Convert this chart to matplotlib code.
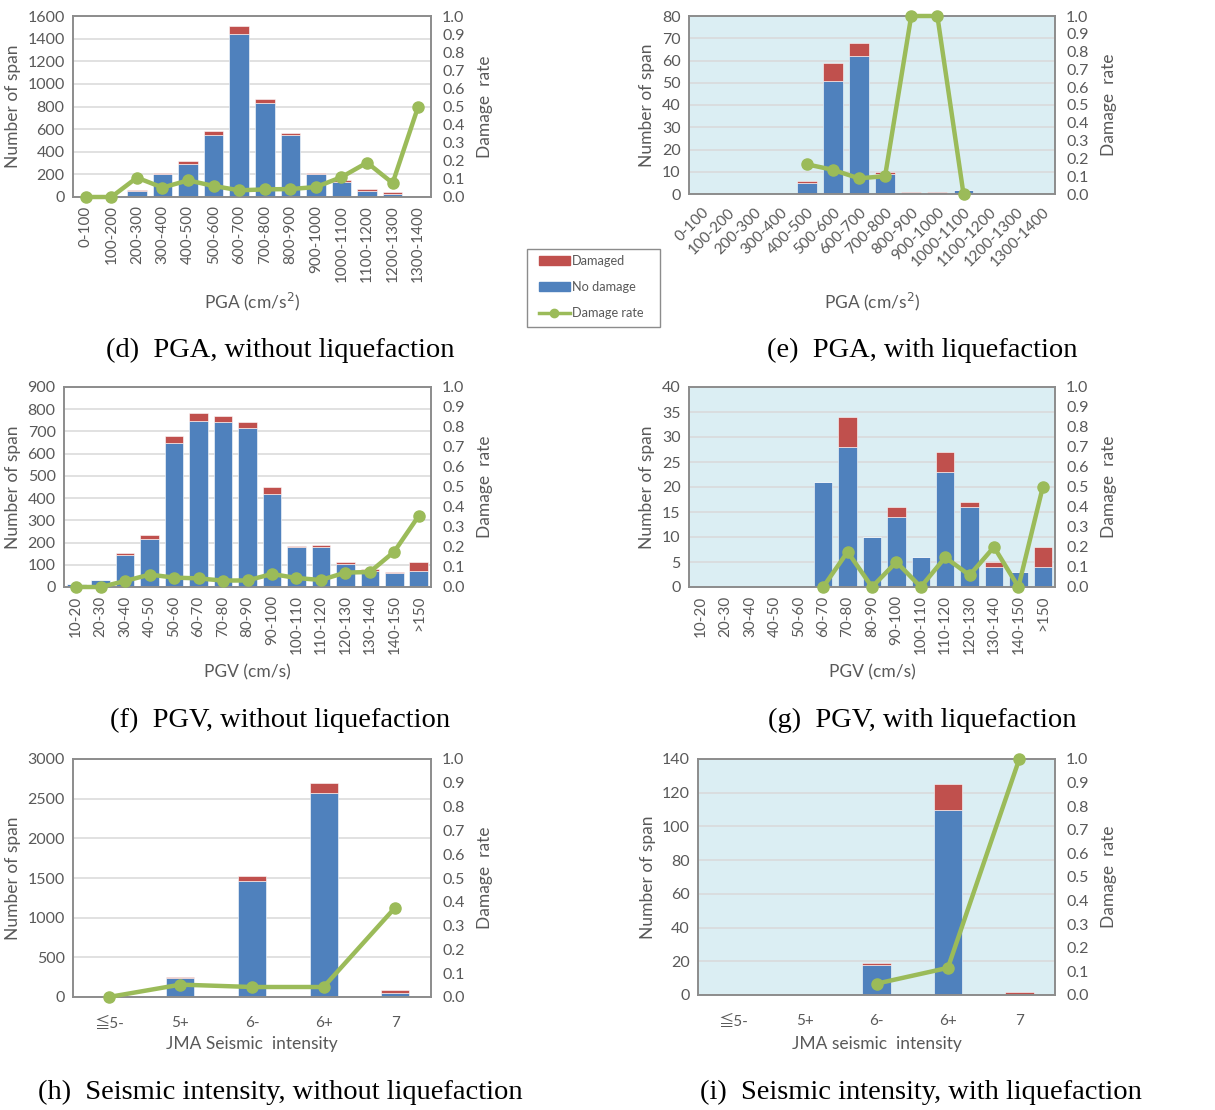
import numpy as np
import matplotlib
matplotlib.use("Agg")
import matplotlib.pyplot as plt
from matplotlib.patches import Patch, Rectangle
from matplotlib.lines import Line2D

W, H = 1215, 1110
BLUE = "#4F81BD"
RED = "#C0504D"
GREEN = "#9BBB59"
GRAY = "#595959"
LIQ_BG = "#DBEEF3"
nan = np.nan

plt.rcParams['font.family'] = ['Lato', 'Noto Sans CJK JP', 'DejaVu Sans']

# PGA (cm/s2)
pga_labels = ['0-100', '100-200', '200-300', '300-400', '400-500', '500-600', '600-700',
              '700-800', '800-900', '900-1000', '1000-1100', '1100-1200', '1200-1300', '1300-1400']
pga_nodmg_dry = [12, 10, 52, 204, 292, 546, 1445, 829, 546, 204, 133, 53, 30, 5]
pga_dmg_dry = [0, 0, 6, 11, 27, 35, 71, 41, 23, 11, 14, 15, 11, 5]
pga_rate_dry = [0.0, 0.0, 0.107, 0.052, 0.092, 0.061, 0.037, 0.042, 0.044, 0.055, 0.11, 0.19, 0.077, 0.5]
pga_nodmg_liq = [0, 0, 0, 0, 5, 51, 62, 9, 0, 0, 2, 0, 0, 0]
pga_dmg_liq = [0, 0, 0, 0, 1, 8, 6, 1, 1, 1, 0, 0, 0, 0]
pga_rate_liq = [nan, nan, nan, nan, 0.167, 0.136, 0.088, 0.1, 1.0, 1.0, 0.0, nan, nan, nan]

# PGV (cm/s)
pgv_labels = ['10-20', '20-30', '30-40', '40-50', '50-60', '60-70', '70-80', '80-90',
              '90-100', '100-110', '110-120', '120-130', '130-140', '140-150', '>150']
pgv_nodmg_dry = [12, 30, 144, 215, 649, 748, 743, 716, 420, 178, 180, 103, 74, 61, 71]
pgv_dmg_dry = [0, 0, 7, 17, 32, 35, 25, 26, 28, 8, 7, 8, 6, 7, 40]
pgv_rate_dry = [0.0, 0.0, 0.030, 0.062, 0.047, 0.043, 0.032, 0.033, 0.065, 0.045, 0.035,
                0.072, 0.075, 0.177, 0.356]
pgv_nodmg_liq = [0, 0, 0, 0, 0, 21, 28, 10, 14, 6, 23, 16, 4, 3, 4]
pgv_dmg_liq = [0, 0, 0, 0, 0, 0, 6, 0, 2, 0, 4, 1, 1, 0, 4]
pgv_rate_liq = [nan, nan, nan, nan, nan, 0.0, 0.176, 0.0, 0.125, 0.0, 0.148, 0.059, 0.2, 0.0, 0.5]

# JMA seismic intensity
jma_labels = ['\u2266' + '5-', '5+', '6-', '6+', '7']
jma_nodmg_dry = [4, 235, 1462, 2570, 52]
jma_dmg_dry = [0, 15, 68, 125, 32]
jma_rate_dry = [0.0, 0.052, 0.042, 0.042, 0.376]
jma_nodmg_liq = [0, 0, 18, 110, 0]
jma_dmg_liq = [0, 0, 1, 15, 2]
jma_rate_liq = [nan, nan, 0.048, 0.115, 1.0]

fig = plt.figure(figsize=(W / 100, H / 100), dpi=100)


def panel(box, labels, nodmg, dmg, rate, ymax, ystep, xlabel, rot, width,
          bg, left_x, right_x, xlab_y, xpad):
    x0, y0, x1, y1 = box
    ax = fig.add_axes([x0 / W, 1 - y1 / H, (x1 - x0) / W, (y1 - y0) / H])
    ax.set_facecolor(bg)
    x = np.arange(len(labels))
    ax.bar(x, nodmg, width, color=BLUE, edgecolor='white', linewidth=0.4, zorder=2)
    ax.bar(x, dmg, width, bottom=nodmg, color=RED, edgecolor='white', linewidth=0.4, zorder=2)
    ax.set_xlim(-0.5, len(labels) - 0.5)
    ax.set_ylim(0, ymax)
    ax.set_yticks(np.arange(0, ymax + ystep / 2, ystep))
    ax.grid(axis='y', color='#D9D9D9', lw=1.1, zorder=0)
    ax.set_axisbelow(True)
    ax.set_xticks(x)
    if rot == 45:
        ax.set_xticklabels(labels, rotation=45, ha='right', rotation_mode='anchor')
    else:
        ax.set_xticklabels(labels, rotation=rot)
    for s in ax.spines.values():
        s.set_color('#8C8C8C')
        s.set_linewidth(1.4)
    ax.tick_params(axis='y', length=0, labelsize=11.5, colors=GRAY, pad=6)
    ax.tick_params(axis='x', length=0, labelsize=11, colors=GRAY, pad=xpad)
    ax.set_ylabel('Number of span', fontsize=12.5, color=GRAY)
    ax.yaxis.set_label_coords((left_x - x0) / (x1 - x0), 0.5)
    ax.set_xlabel(xlabel, fontsize=12.5, color=GRAY)
    ax.xaxis.set_label_coords(0.5, (y1 - xlab_y) / (y1 - y0))

    ax2 = ax.twinx()
    ax2.plot(x, rate, color=GREEN, lw=3.2, marker='o', ms=8, zorder=3, clip_on=False)
    ax2.set_ylim(0, 1.0)
    ax2.set_yticks(np.arange(0, 1.01, 0.1))
    ax2.set_yticklabels(['%.1f' % v for v in np.arange(0, 1.01, 0.1)])
    ax2.tick_params(length=0, labelsize=11.5, colors=GRAY, pad=8)
    for s in ax2.spines.values():
        s.set_visible(False)
    ax2.set_ylabel('Damage  rate', fontsize=12.5, color=GRAY)
    ax2.yaxis.set_label_coords((right_x - x0) / (x1 - x0), 0.5)
    return ax


panel((73, 16, 431, 197), pga_labels, pga_nodmg_dry, pga_dmg_dry, pga_rate_dry, 1600, 200,
      'PGA (cm/s$^2$)', 90, 0.76, 'white', 21, 477, 291, 6)
panel((689, 16, 1055, 194), pga_labels, pga_nodmg_liq, pga_dmg_liq, pga_rate_liq, 80, 10,
      'PGA (cm/s$^2$)', 45, 0.76, LIQ_BG, 655, 1101, 291, 8)
panel((64, 387, 431, 587), pgv_labels, pgv_nodmg_dry, pgv_dmg_dry, pgv_rate_dry, 900, 100,
      'PGV (cm/s)', 90, 0.76, 'white', 21, 477, 664, 6)
panel((689, 387, 1055, 587), pgv_labels, pgv_nodmg_liq, pgv_dmg_liq, pgv_rate_liq, 40, 5,
      'PGV (cm/s)', 90, 0.76, LIQ_BG, 655, 1101, 664, 6)
panel((73, 759, 431, 997), jma_labels, jma_nodmg_dry, jma_dmg_dry, jma_rate_dry, 3000, 500,
      'JMA Seismic  intensity', 0, 0.39, 'white', 21, 477, 1036, 14)
panel((698, 759, 1055, 995), jma_labels, jma_nodmg_liq, jma_dmg_liq, jma_rate_liq, 140, 20,
      'JMA seismic  intensity', 0, 0.40, LIQ_BG, 656, 1101, 1036, 14)

# legend, with its own frame box
fig.patches.append(Rectangle((527 / W, 1 - 327 / H), 133 / W, 78 / H, transform=fig.transFigure,
                             facecolor='white', edgecolor='#8C8C8C', lw=1.0, zorder=5))
handles = [Patch(color=RED, label='Damaged'),
           Patch(color=BLUE, label='No damage'),
           Line2D([0], [0], color=GREEN, lw=2.5, marker='o', ms=6, label='Damage rate')]
leg = fig.legend(handles=handles, loc='upper left', bbox_to_anchor=(539 / W, 1 - 255 / H),
                 fontsize=9.2, frameon=False, labelspacing=1.1, handlelength=2.4,
                 handleheight=0.6, handletextpad=0.2, borderpad=0, borderaxespad=0,
                 labelcolor=GRAY)
leg.set_zorder(6)

# captions
captions = [(280, 350, '(d)  PGA, without liquefaction'),
            (922, 350, '(e)  PGA, with liquefaction'),
            (280, 720, '(f)  PGV, without liquefaction'),
            (922, 720, '(g)  PGV, with liquefaction'),
            (280, 1092, '(h)  Seismic intensity, without liquefaction'),
            (921, 1092, '(i)  Seismic intensity, with liquefaction')]
for cx, cy, txt in captions:
    fig.text(cx / W, 1 - cy / H, txt, ha='center', va='center', fontsize=20.5,
             family='Liberation Serif')

fig.savefig('out.png', dpi=100)
